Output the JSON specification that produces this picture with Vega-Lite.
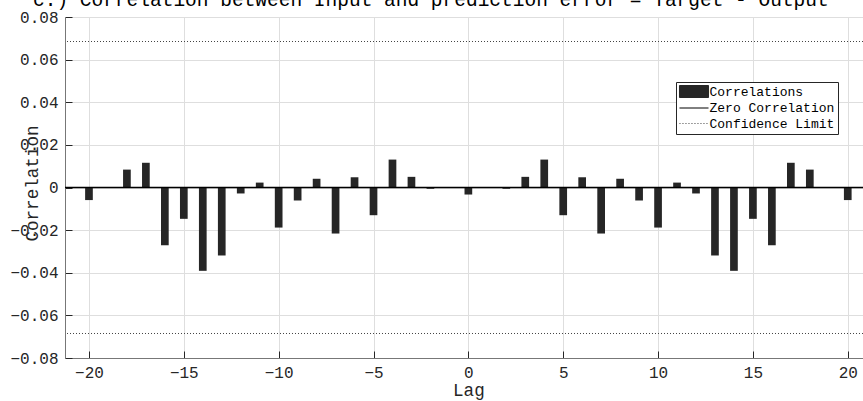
{
  "$schema": "https://vega.github.io/schema/vega-lite/v6.json",
  "width": 798,
  "height": 341,
  "autosize": "none",
  "padding": {"left": 65, "top": 17, "right": 0, "bottom": 43},
  "background": "white",
  "title": {
    "text": "c.) Correlation between Input and prediction error = Target - Output",
    "anchor": "start",
    "frame": "group",
    "dx": -32,
    "offset": -16,
    "baseline": "alphabetic",
    "font": "Liberation Mono, Courier New, Courier, DejaVu Sans Mono, monospace",
    "fontSize": 19.5,
    "fontWeight": "normal",
    "color": "#000000"
  },
  "datasets": {
    "corr": [
      {"lag": -20, "value": -0.0059, "series": "Correlations"},
      {"lag": -19, "value": 0.0, "series": "Correlations"},
      {"lag": -18, "value": 0.0084, "series": "Correlations"},
      {"lag": -17, "value": 0.0116, "series": "Correlations"},
      {"lag": -16, "value": -0.0271, "series": "Correlations"},
      {"lag": -15, "value": -0.0147, "series": "Correlations"},
      {"lag": -14, "value": -0.0391, "series": "Correlations"},
      {"lag": -13, "value": -0.0319, "series": "Correlations"},
      {"lag": -12, "value": -0.0028, "series": "Correlations"},
      {"lag": -11, "value": 0.0023, "series": "Correlations"},
      {"lag": -10, "value": -0.0188, "series": "Correlations"},
      {"lag": -9, "value": -0.0061, "series": "Correlations"},
      {"lag": -8, "value": 0.0041, "series": "Correlations"},
      {"lag": -7, "value": -0.0216, "series": "Correlations"},
      {"lag": -6, "value": 0.0048, "series": "Correlations"},
      {"lag": -5, "value": -0.013, "series": "Correlations"},
      {"lag": -4, "value": 0.0131, "series": "Correlations"},
      {"lag": -3, "value": 0.005, "series": "Correlations"},
      {"lag": -2, "value": -0.0006, "series": "Correlations"},
      {"lag": -1, "value": 0.0, "series": "Correlations"},
      {"lag": 0, "value": -0.0033, "series": "Correlations"},
      {"lag": 1, "value": 0.0, "series": "Correlations"},
      {"lag": 2, "value": -0.0006, "series": "Correlations"},
      {"lag": 3, "value": 0.005, "series": "Correlations"},
      {"lag": 4, "value": 0.0131, "series": "Correlations"},
      {"lag": 5, "value": -0.013, "series": "Correlations"},
      {"lag": 6, "value": 0.0048, "series": "Correlations"},
      {"lag": 7, "value": -0.0216, "series": "Correlations"},
      {"lag": 8, "value": 0.0041, "series": "Correlations"},
      {"lag": 9, "value": -0.0061, "series": "Correlations"},
      {"lag": 10, "value": -0.0188, "series": "Correlations"},
      {"lag": 11, "value": 0.0023, "series": "Correlations"},
      {"lag": 12, "value": -0.0028, "series": "Correlations"},
      {"lag": 13, "value": -0.0319, "series": "Correlations"},
      {"lag": 14, "value": -0.0391, "series": "Correlations"},
      {"lag": 15, "value": -0.0147, "series": "Correlations"},
      {"lag": 16, "value": -0.0271, "series": "Correlations"},
      {"lag": 17, "value": 0.0116, "series": "Correlations"},
      {"lag": 18, "value": 0.0084, "series": "Correlations"},
      {"lag": 19, "value": 0.0, "series": "Correlations"},
      {"lag": 20, "value": -0.0059, "series": "Correlations"}
    ],
    "zero": [{"value": 0, "series": "Zero Correlation"}],
    "conf": [
      {"value": 0.0685, "series": "Confidence Limit"},
      {"value": -0.0685, "series": "Confidence Limit"}
    ]
  },
  "layer": [
    {
      "data": {"name": "corr"},
      "mark": {"type": "bar", "size": 7.7},
      "encoding": {
        "x": {
          "field": "lag",
          "type": "quantitative",
          "scale": {"domain": [-21, 20.54], "nice": false, "zero": false},
          "axis": {
            "values": [-20, -15, -10, -5, 0, 5, 10, 15, 20],
            "grid": true,
            "gridColor": "#dedede",
            "tickSize": -7,
            "tickColor": "#262626",
            "domainColor": "#777777",
            "labelFont": "Liberation Mono, Courier New, Courier, DejaVu Sans Mono, monospace",
            "labelFontSize": 16,
            "labelColor": "#262626",
            "labelPadding": 13,
            "labelFlush": false,
            "labelOverlap": false,
            "title": "Lag",
            "titleFont": "Liberation Mono, Courier New, Courier, DejaVu Sans Mono, monospace",
            "titleFontSize": 17.6,
            "titleFontWeight": "normal",
            "titleColor": "#262626",
            "titleX": 403.4,
            "titleY": 37,
            "titleBaseline": "alphabetic"
          }
        },
        "y": {
          "field": "value",
          "type": "quantitative",
          "scale": {"domain": [-0.08, 0.08], "nice": false, "zero": false},
          "axis": {
            "values": [-0.08, -0.06, -0.04, -0.02, 0, 0.02, 0.04, 0.06, 0.08],
            "format": ".2~f",
            "grid": true,
            "gridColor": "#dedede",
            "tickSize": -7,
            "tickColor": "#262626",
            "domainColor": "#777777",
            "labelFont": "Liberation Mono, Courier New, Courier, DejaVu Sans Mono, monospace",
            "labelFontSize": 16,
            "labelColor": "#262626",
            "labelPadding": 14,
            "labelOverlap": false,
            "labelFlush": false,
            "title": "Correlation",
            "titleFont": "Liberation Mono, Courier New, Courier, DejaVu Sans Mono, monospace",
            "titleFontSize": 17.6,
            "titleFontWeight": "normal",
            "titleColor": "#262626",
            "titleX": -28,
            "titleY": 166,
            "titleBaseline": "alphabetic",
            "titleAlign": "center"
          }
        },
        "color": {
          "field": "series",
          "type": "nominal",
          "scale": {
            "domain": ["Correlations", "Zero Correlation", "Confidence Limit"],
            "range": ["#262626", "#000000", "#444444"]
          },
          "legend": {
            "title": null,
            "orient": "none",
            "legendX": 611,
            "legendY": 65,
            "padding": 3,
            "strokeColor": "#262626",
            "fillColor": "#ffffff",
            "cornerRadius": 0,
            "labelFont": "Liberation Mono, Courier New, Courier, DejaVu Sans Mono, monospace",
            "labelFontSize": 13,
            "labelColor": "#000000",
            "symbolSize": 144,
            "symbolOffset": 8.5,
            "labelOffset": 9,
            "rowPadding": 1.5,
            "encode": {
              "symbols": {
                "update": {
                  "shape": {"signal": "datum.value === 'Correlations' ? 'M-2.42,-1H2.42V1H-2.42Z' : 'M-2.42,0H2.42'"},
                  "fill": {"signal": "datum.value === 'Correlations' ? '#262626' : 'transparent'"},
                  "fillOpacity": {"value": 1},
                  "stroke": {"signal": "datum.value === 'Correlations' ? 'transparent' : datum.value === 'Zero Correlation' ? '#262626' : '#444444'"},
                  "strokeWidth": {"value": 1},
                  "strokeDash": {"signal": "datum.value === 'Confidence Limit' ? [1, 2] : [100, 0]"},
                  "opacity": {"value": 1}
                }
              }
            }
          }
        }
      }
    },
    {
      "data": {"name": "zero"},
      "mark": {"type": "rule", "strokeWidth": 1.5},
      "encoding": {
        "y": {"field": "value", "type": "quantitative"},
        "color": {"field": "series", "type": "nominal"}
      }
    },
    {
      "data": {"name": "conf"},
      "mark": {"type": "rule", "strokeWidth": 1, "strokeDash": [1, 2]},
      "encoding": {
        "y": {"field": "value", "type": "quantitative"},
        "color": {"field": "series", "type": "nominal"}
      }
    }
  ],
  "config": {
    "view": {"stroke": null}
  }
}
